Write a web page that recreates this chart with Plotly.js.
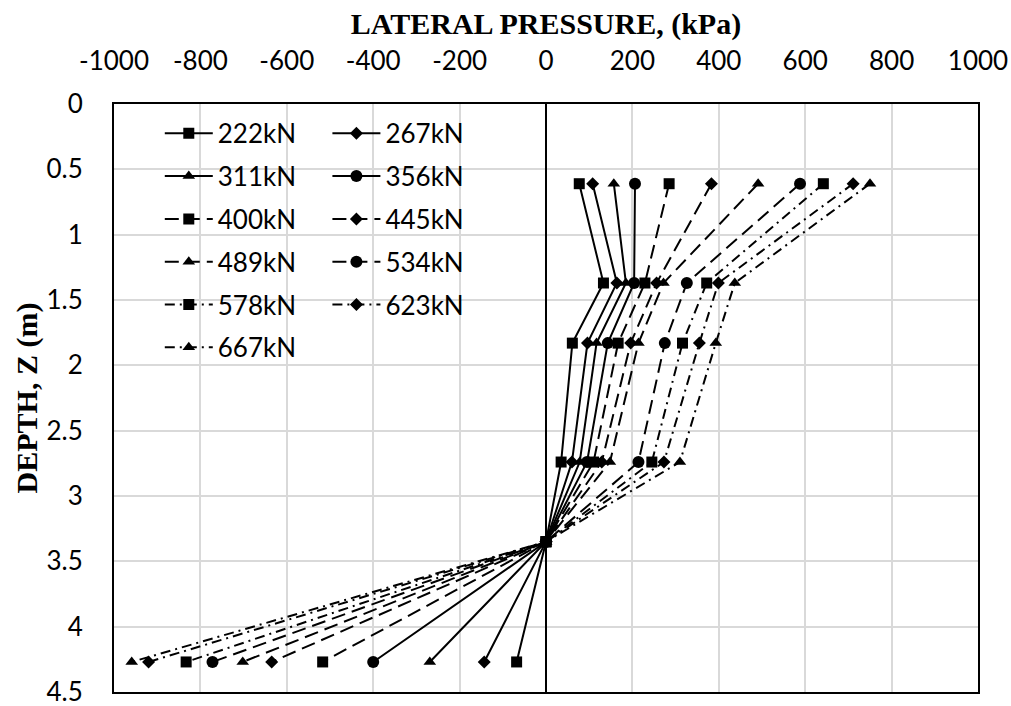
<!DOCTYPE html>
<html>
<head>
<meta charset="utf-8">
<script src="https://cdn.plot.ly/plotly-3.0.1.min.js"></script>
<style>html,body{margin:0;padding:0;background:#fff;}#chart{width:1011px;height:706px;}</style>
</head>
<body>
<div id="chart"></div>
<script>
// Depth below surface (m)
const depth = [0.61, 1.37, 1.83, 2.74, 3.35, 4.27];
// Lateral pressure (kPa) per load level
const p222 = [77, 133, 61, 35, 0, -68];
const p267 = [108, 164, 96, 60, 0, -143];
const p311 = [157, 185, 117, 78, 0, -269];
const p356 = [206, 204, 143, 95, 0, -400];
const p400 = [285, 229, 167, 110, 0, -517];
const p445 = [383, 256, 196, 129, 0, -635];
const p489 = [491, 272, 214, 148, 0, -702];
const p534 = [588, 326, 275, 214, 0, -772];
const p578 = [642, 372, 316, 245, 0, -833];
const p623 = [711, 399, 355, 273, 0, -920];
const p667 = [750, 437, 393, 310, 0, -959];
const seriesNames = ["222kN","267kN","311kN","356kN","400kN","445kN","489kN","534kN","578kN","623kN","667kN"];
const xTickVals = [-1000,-800,-600,-400,-200,0,200,400,600,800,1000];
const xTickLabels = ["-1000","-800","-600","-400","-200","0","200","400","600","800","1000"];
const yTickVals = [0,0.5,1,1.5,2,2.5,3,3.5,4,4.5];
const yTickLabels = ["0","0.5","1","1.5","2","2.5","3","3.5","4","4.5"];

const values = [p222,p267,p311,p356,p400,p445,p489,p534,p578,p623,p667];
const symbols = ["square","diamond","triangle-up","circle","square","diamond","triangle-up","circle","square","diamond","triangle-up"];
const sizes = {"square":11,"diamond":10,"triangle-up":11,"circle":12};
const dashes = ["solid","solid","solid","solid","14px,7px","14px,7px","14px,7px","14px,7px","10px,5px,2px,5px","10px,5px,2px,5px","10px,5px,2px,5px"];

const traces = values.map((v,i)=>({
  type:"scatter", mode:"lines+markers",
  x:v, y:depth, name:seriesNames[i],
  legend: (i%2===0) ? "legend" : "legend2",
  legendgroup: "g"+i,
  line:{color:"#000", width:2, dash:dashes[i]},
  marker:{symbol:symbols[i], size:sizes[symbols[i]], color:"#000"},
  hoverinfo:"x+y"
}));

const tickFont = {family:"Lato, 'Open Sans', sans-serif", size:26, color:"#000"};
const titleFont = {family:"'Liberation Serif', 'Times New Roman', serif", size:30, color:"#000", weight:"bold"};
const legendCommon = {
  font: tickFont, bgcolor:"rgba(0,0,0,0)", borderwidth:0,
  xanchor:"left", yanchor:"top", itemwidth:48,
  traceorder:"grouped", tracegroupgap:6
};

const layout = {
  width:1011, height:706,
  paper_bgcolor:"#fff", plot_bgcolor:"#fff",
  margin:{l:114, r:33, t:104, b:14},
  showlegend:true,
  legend: Object.assign({x:0.053, y:0.99}, legendCommon),
  legend2: Object.assign({x:0.247, y:0.99}, legendCommon),
  xaxis:{
    side:"top", range:[-1000,1000], tickmode:"array", tickvals:xTickVals, ticktext:xTickLabels,
    tickfont:tickFont, ticks:"", ticklabelstandoff:22, ticklabeloverflow:"allow",
    showgrid:true, gridcolor:"#d9d9d9", gridwidth:2,
    zeroline:true, zerolinecolor:"#000", zerolinewidth:2,
    showline:true, mirror:true, linecolor:"#000", linewidth:2,
    title:{text:"LATERAL PRESSURE, (kPa)", font:titleFont, standoff:0}
  },
  yaxis:{
    range:[4.5,0], tickmode:"array", tickvals:yTickVals, ticktext:yTickLabels,
    tickfont:tickFont, ticks:"", ticklabelstandoff:24, ticklabeloverflow:"allow",
    showgrid:true, gridcolor:"#d9d9d9", gridwidth:2,
    zeroline:false,
    showline:true, mirror:true, linecolor:"#000", linewidth:2,
    title:{text:"DEPTH, Z (m)", font:titleFont, standoff:0}
  }
};

Plotly.newPlot("chart", traces, layout, {displayModeBar:false, staticPlot:true});
</script>
</body>
</html>
